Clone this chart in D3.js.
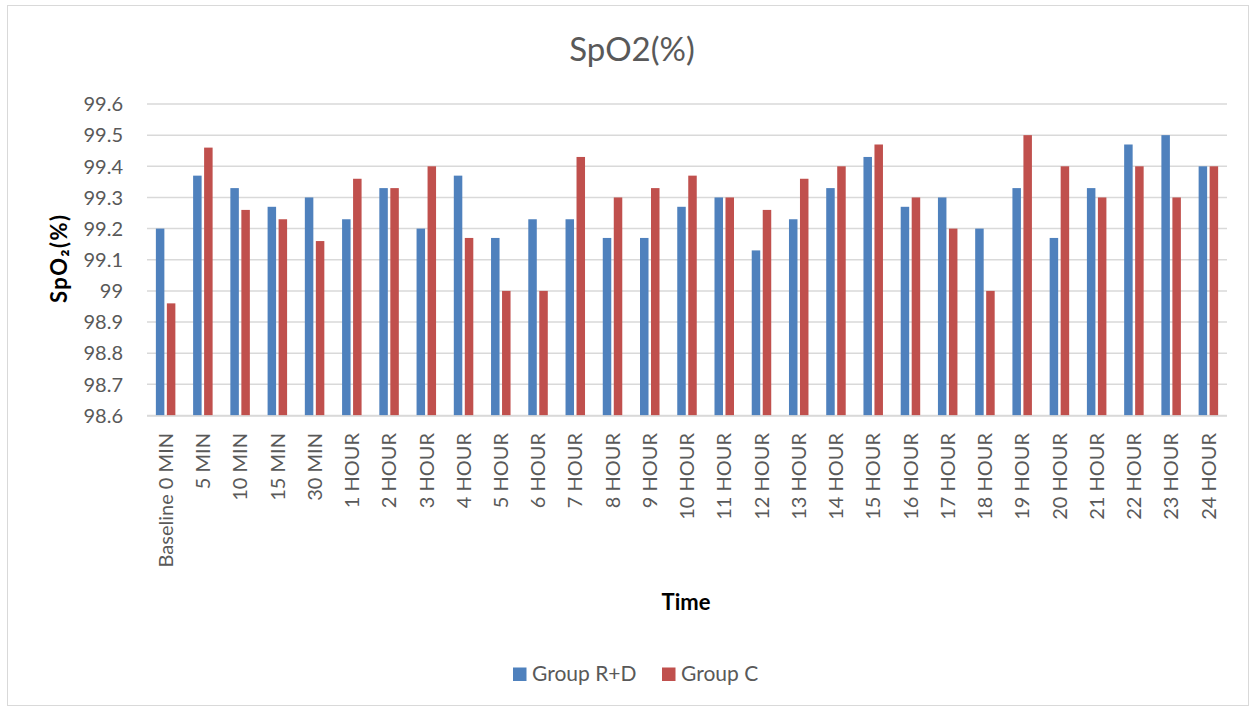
<!DOCTYPE html>
<html>
<head>
<meta charset="utf-8">
<script src="https://cdn.jsdelivr.net/npm/d3@7"></script>
<style>
  html, body { margin: 0; padding: 0; background: #fff; }
  svg { display: block; }
  text { font-family: Lato, "Open Sans", sans-serif; }
</style>
</head>
<body>
<svg id="chart" width="1253" height="709"></svg>
<script>
const categories = ["Baseline 0 MIN","5 MIN","10 MIN","15 MIN","30 MIN","1 HOUR","2 HOUR","3 HOUR","4 HOUR","5 HOUR","6 HOUR","7 HOUR","8 HOUR","9 HOUR","10 HOUR","11 HOUR","12 HOUR","13 HOUR","14 HOUR","15 HOUR","16 HOUR","17 HOUR","18 HOUR","19 HOUR","20 HOUR","21 HOUR","22 HOUR","23 HOUR","24 HOUR"];
const seriesNames = ["Group R+D", "Group C"];
const groupRD = [99.2,99.37,99.33,99.27,99.3,99.23,99.33,99.2,99.37,99.17,99.23,99.23,99.17,99.17,99.27,99.3,99.13,99.23,99.33,99.43,99.27,99.3,99.2,99.33,99.17,99.33,99.47,99.5,99.4];
const groupC  = [98.96,99.46,99.26,99.23,99.16,99.36,99.33,99.4,99.17,99.0,99.0,99.43,99.3,99.33,99.37,99.3,99.26,99.36,99.4,99.47,99.3,99.2,99.0,99.5,99.4,99.3,99.4,99.3,99.4];
const yTicks = [98.6,98.7,98.8,98.9,99,99.1,99.2,99.3,99.4,99.5,99.6];
const colors = ["#4F81BD", "#C0504D"];
const titleText = "SpO2(%)";
const yTitleText = "SpO\u2082(%)";
const xTitleText = "Time";

const svg = d3.select("#chart");
const plot = {left: 147, right: 1227, top: 104, bottom: 415.5};

// outer border
svg.append("rect").attr("x", 7.5).attr("y", 5.5).attr("width", 1241).attr("height", 700)
  .attr("fill", "#fff").attr("stroke", "#d9d9d9").attr("stroke-width", 1);

const x0 = d3.scaleBand().domain(categories).range([plot.left, plot.right]).padding(0);
const groupW = 19.5;
const x1 = d3.scaleBand().domain(seriesNames).range([0, groupW]).paddingInner(0.227).paddingOuter(0);
const y = d3.scaleLinear().domain([98.6, 99.6]).range([plot.bottom, plot.top]);

// gridlines
svg.append("g").selectAll("line").data(yTicks).join("line")
  .attr("x1", plot.left).attr("x2", plot.right)
  .attr("y1", d => y(d)).attr("y2", d => y(d))
  .attr("stroke", "#d9d9d9").attr("stroke-width", 1.5);

// y tick labels
svg.append("g").selectAll("text").data(yTicks).join("text")
  .attr("x", 123).attr("y", d => y(d))
  .attr("dy", "0.36em")
  .attr("text-anchor", "end")
  .attr("fill", "#595959")
  .attr("font-size", 20)
  .text(d => d3.format("")(+d.toFixed(1)));

// bars
const seriesData = [groupRD, groupC];
seriesData.forEach((vals, si) => {
  svg.append("g").selectAll("rect").data(vals).join("rect")
    .attr("x", (d, i) => x0(categories[i]) + (x0.bandwidth() - groupW) / 2 + x1(seriesNames[si]))
    .attr("width", x1.bandwidth())
    .attr("y", d => y(d))
    .attr("height", d => y(98.6) - y(d))
    .attr("fill", colors[si]);
});

// x axis line
svg.append("line").attr("x1", plot.left).attr("x2", plot.right)
  .attr("y1", plot.bottom + 0.5).attr("y2", plot.bottom + 0.5)
  .attr("stroke", "#d9d9d9").attr("stroke-width", 1.5);

// x labels
svg.append("g").selectAll("text").data(categories).join("text")
  .attr("transform", d => `translate(${x0(d) + x0.bandwidth() / 2},433) rotate(-90)`)
  .attr("text-anchor", "end")
  .attr("dy", "0.36em")
  .attr("fill", "#595959")
  .attr("font-size", 20)
  .text(d => d);

// title
svg.append("text").attr("x", 632).attr("y", 61).attr("text-anchor", "middle")
  .attr("fill", "#595959").attr("font-size", 33).text(titleText);

// y title
svg.append("text").attr("transform", "translate(67,259) rotate(-90)")
  .attr("text-anchor", "middle").attr("font-weight", "bold").attr("font-size", 22)
  .attr("textLength", 88).attr("lengthAdjust", "spacing")
  .attr("fill", "#000").text(yTitleText);

// x title
svg.append("text").attr("x", 686).attr("y", 610).attr("text-anchor", "middle")
  .attr("font-weight", "bold").attr("font-size", 22).attr("fill", "#000").text(xTitleText);

// legend
const legendItems = [{name: seriesNames[0], color: colors[0], x: 513}, {name: seriesNames[1], color: colors[1], x: 662}];
const lg = svg.append("g");
legendItems.forEach(it => {
  lg.append("rect").attr("x", it.x).attr("y", 667.5).attr("width", 13.5).attr("height", 13.5).attr("fill", it.color);
  lg.append("text").attr("x", it.x + 19).attr("y", 681).attr("fill", "#595959")
    .attr("font-size", 21).text(it.name);
});
</script>
</body>
</html>
